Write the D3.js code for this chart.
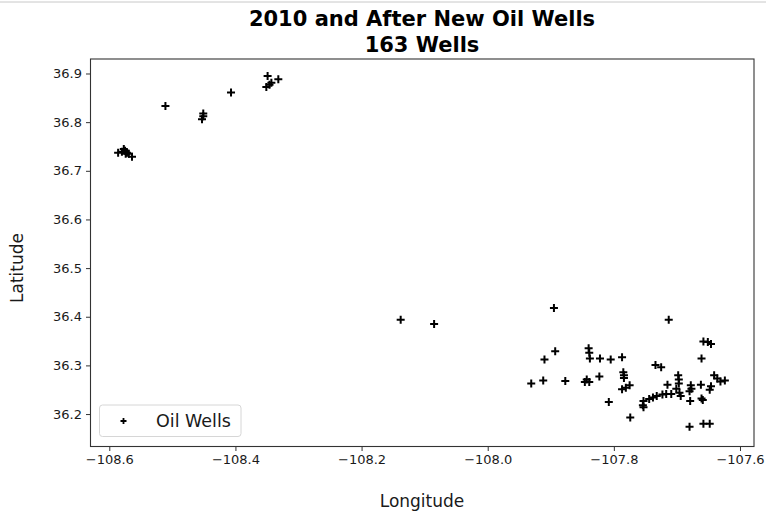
<!DOCTYPE html>
<html>
<head>
<meta charset="utf-8">
<script src="https://cdn.jsdelivr.net/npm/d3@7"></script>
<style>
  html, body { margin: 0; padding: 0; background: #fff; }
  svg { display: block; font-family: "DejaVu Sans", sans-serif; }
</style>
</head>
<body>
<svg id="chart" width="766" height="516"></svg>
<script>
// Well locations (longitude, latitude) for oil wells drilled 2010 and later
const lons = [
  -108.586, -108.580, -108.575, -108.572, -108.569, -108.564, -108.577, -108.574,
  -108.511, -108.451, -108.451, -108.453, -108.407,
  -108.349, -108.332, -108.343, -108.346, -108.351,
  -108.138, -108.085,
  -107.895, -107.893, -107.910, -107.931, -107.912, -107.877,
  -107.840, -107.839, -107.838, -107.822, -107.805, -107.787,
  -107.843, -107.839, -107.846, -107.823,
  -107.785, -107.784, -107.784, -107.787, -107.781, -107.775,
  -107.808, -107.774,
  -107.713, -107.658, -107.651, -107.646, -107.661,
  -107.734, -107.725, -107.715,
  -107.698, -107.697, -107.697, -107.701, -107.696, -107.694,
  -107.678, -107.677, -107.680, -107.662, -107.646, -107.648,
  -107.641, -107.636, -107.631, -107.624,
  -107.661, -107.659, -107.679,
  -107.709, -107.717, -107.723, -107.732, -107.738, -107.744,
  -107.753, -107.754, -107.753,
  -107.680, -107.658, -107.648
];
const lats = [
  36.737, 36.739, 36.741, 36.737, 36.735, 36.729, 36.745, 36.735,
  36.833, 36.818, 36.812, 36.806, 36.861,
  36.895, 36.888, 36.881, 36.877, 36.872,
  36.394, 36.385,
  36.418, 36.329, 36.312, 36.263, 36.269, 36.268,
  36.335, 36.326, 36.314, 36.314, 36.312, 36.317,
  36.271, 36.266, 36.266, 36.277,
  36.286, 36.280, 36.274, 36.251, 36.254, 36.259,
  36.225, 36.193,
  36.394, 36.349, 36.348, 36.344, 36.314,
  36.301, 36.296, 36.260,
  36.280, 36.271, 36.263, 36.252, 36.244, 36.237,
  36.259, 36.252, 36.247, 36.260, 36.257, 36.250,
  36.280, 36.273, 36.267, 36.269,
  36.232, 36.229, 36.227,
  36.241, 36.241, 36.240, 36.237, 36.234, 36.231,
  36.227, 36.218, 36.214,
  36.174, 36.180, 36.180
];
const xTicks = [-108.6, -108.4, -108.2, -108.0, -107.8, -107.6];
const yTicks = [36.2, 36.3, 36.4, 36.5, 36.6, 36.7, 36.8, 36.9];
const titleLines = ["2010 and After New Oil Wells", "163 Wells"];
const seriesName = "Oil Wells";

const svg = d3.select("#chart");
const W = 766, H = 516;
const plot = { left: 90.5, right: 754, top: 59, bottom: 446.5 };

// thin separator rule along the top edge
svg.append("line")
  .attr("x1", 0).attr("x2", W).attr("y1", 2).attr("y2", 2)
  .attr("stroke", "#c8c8c8").attr("stroke-width", 1);

const x = d3.scaleLinear().domain([-108.6298, -107.5778]).range([plot.left, plot.right]);
const y = d3.scaleLinear().domain([36.1333, 36.9298]).range([plot.bottom, plot.top]);

const fmt = d => d.toFixed(1).replace("-", "\u2212");

// axes
const xAxis = d3.axisBottom(x).tickValues(xTicks).tickFormat(fmt).tickSize(4.5).tickPadding(4);
const yAxis = d3.axisLeft(y).tickValues(yTicks).tickFormat(fmt).tickSize(4.5).tickPadding(4);

const gx = svg.append("g").attr("transform", `translate(0,${plot.bottom})`).call(xAxis);
const gy = svg.append("g").attr("transform", `translate(${plot.left},0)`).call(yAxis);
[gx, gy].forEach(g => {
  g.select(".domain").remove();
  g.selectAll(".tick line").attr("stroke", "#333").attr("stroke-width", 1);
  g.selectAll(".tick text").attr("fill", "#1a1a1a")
    .style("font-size", "13px").style("font-family", "DejaVu Sans");
});

// frame
svg.append("rect")
  .attr("x", plot.left).attr("y", plot.top)
  .attr("width", plot.right - plot.left).attr("height", plot.bottom - plot.top)
  .attr("fill", "none").attr("stroke", "#333").attr("stroke-width", 1.1);

// plus markers
const m = 4;
const plusPath = `M${-m},0H${m}M0,${-m}V${m}`;
svg.append("g").selectAll("path")
  .data(d3.range(lons.length))
  .join("path")
  .attr("transform", i => `translate(${x(lons[i])},${y(lats[i])})`)
  .attr("d", plusPath)
  .attr("stroke", "#000")
  .attr("stroke-width", 2)
  .attr("fill", "none");

// title
svg.append("g").selectAll("text")
  .data(titleLines)
  .join("text")
  .attr("x", 422).attr("y", (d, i) => 26 + i * 26)
  .attr("text-anchor", "middle")
  .style("font-size", "21px").style("font-weight", "bold")
  .attr("fill", "#000")
  .text(d => d);

// axis titles
svg.append("text")
  .attr("x", 422).attr("y", 507)
  .attr("text-anchor", "middle")
  .style("font-size", "17px").attr("fill", "#1a1a1a")
  .text("Longitude");
svg.append("text")
  .attr("transform", "translate(23,268) rotate(-90)")
  .attr("text-anchor", "middle")
  .style("font-size", "17px").attr("fill", "#1a1a1a")
  .text("Latitude");

// legend
const lg = svg.append("g");
lg.append("rect")
  .attr("x", 99.5).attr("y", 405).attr("width", 141.5).attr("height", 31.5)
  .attr("rx", 3).attr("fill", "#fff").attr("fill-opacity", 0.8)
  .attr("stroke", "#d6d6d6").attr("stroke-width", 1);
lg.append("path")
  .attr("transform", "translate(123.5,421)")
  .attr("d", `M-3,0H3M0,-3V3`)
  .attr("stroke", "#000").attr("stroke-width", 1.8);
lg.append("text")
  .attr("x", 156).attr("y", 427)
  .style("font-size", "17.5px").attr("fill", "#1a1a1a")
  .text(seriesName);
</script>
</body>
</html>
